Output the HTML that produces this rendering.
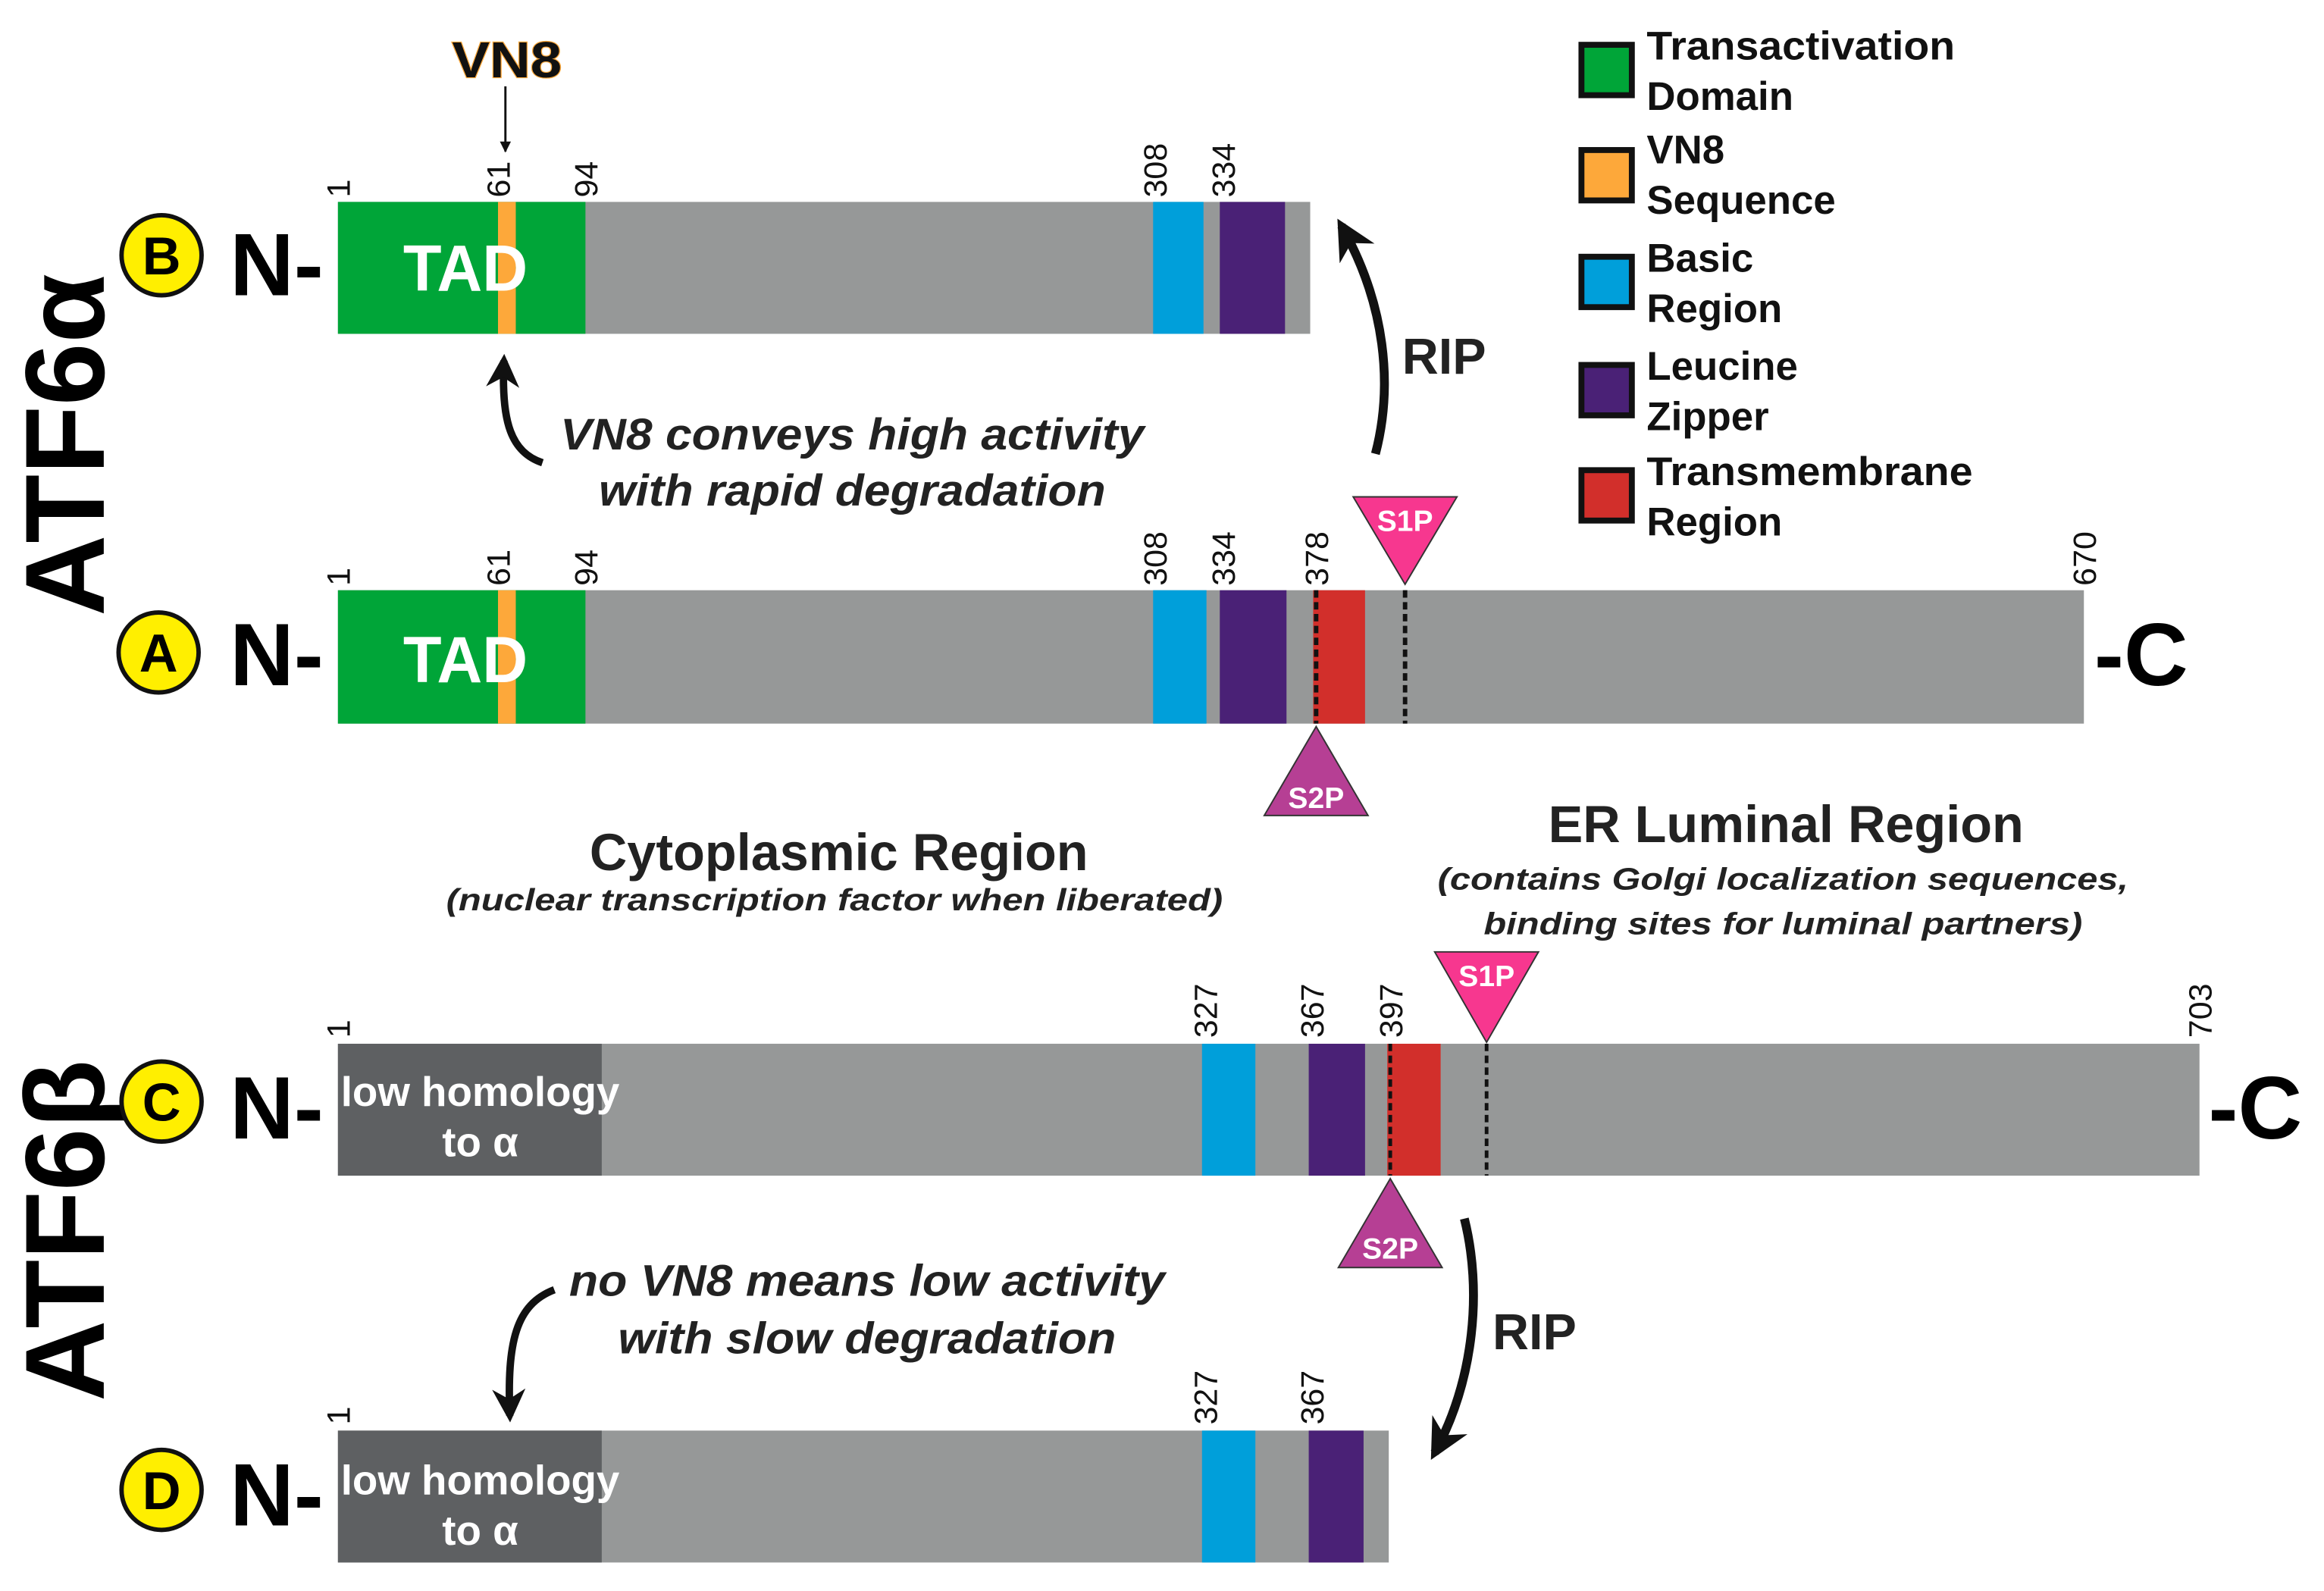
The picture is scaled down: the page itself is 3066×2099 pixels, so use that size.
<!DOCTYPE html>
<html><head><meta charset="utf-8"><style>
html,body{margin:0;padding:0;background:#fff;width:3066px;height:2099px;overflow:hidden}
svg{display:block}
.n{font-family:"Liberation Sans Narrow","Liberation Sans",sans-serif;font-weight:bold}
.s{font-family:"Liberation Sans",sans-serif}
</style></head><body>
<svg width="3066" height="2099" viewBox="0 0 1568 1073" xmlns="http://www.w3.org/2000/svg">
<defs>
<marker id="ah" viewBox="0 0 10 10" refX="9" refY="5" markerWidth="5" markerHeight="5" orient="auto"><path d="M0,0 L10,5 L0,10 z" fill="#111"/></marker>
<marker id="ahs" viewBox="0 0 10 10" refX="8" refY="5" markerWidth="4.5" markerHeight="4.5" orient="auto"><path d="M0,0 L10,5 L0,10 L3,5 z" fill="#111"/></marker>
</defs>

<text class="s" font-weight="bold" font-size="76" transform="translate(70,300) rotate(-90)" text-anchor="middle">ATF6α</text>
<text class="s" font-weight="bold" font-size="76" transform="translate(70,830) rotate(-90)" text-anchor="middle">ATF6β</text>

<g class="s" font-weight="bold" font-size="36" text-anchor="middle">
<circle cx="109" cy="172" r="27" fill="#ffef00" stroke="#111" stroke-width="3"/><text x="109" y="185">B</text>
<circle cx="107" cy="440" r="27" fill="#ffef00" stroke="#111" stroke-width="3"/><text x="107" y="453">A</text>
<circle cx="109" cy="743" r="27" fill="#ffef00" stroke="#111" stroke-width="3"/><text x="109" y="756">C</text>
<circle cx="109" cy="1005" r="27" fill="#ffef00" stroke="#111" stroke-width="3"/><text x="109" y="1018">D</text>
</g>
<g class="n" font-size="60">
<text x="155" y="199">N-</text>
<text x="155" y="462">N-</text>
<text x="155" y="768">N-</text>
<text x="155" y="1029">N-</text>
<text x="1413" y="462">-C</text>
<text x="1490" y="768">-C</text>
</g>

<rect x="228" y="136" width="656" height="89" fill="#969898"/>
<rect x="228" y="136" width="167" height="89" fill="#00a538"/>
<rect x="336" y="136" width="12" height="89" fill="#fda83a"/>
<rect x="778" y="136" width="34" height="89" fill="#009fda"/>
<rect x="823" y="136" width="44" height="89" fill="#4a2176"/>
<text class="n" x="314" y="196" font-size="44" fill="#fff" text-anchor="middle" textLength="84" lengthAdjust="spacingAndGlyphs">TAD</text>

<rect x="228" y="398" width="1178" height="90" fill="#969898"/>
<rect x="228" y="398" width="167" height="90" fill="#00a538"/>
<rect x="336" y="398" width="12" height="90" fill="#fda83a"/>
<rect x="778" y="398" width="36" height="90" fill="#009fda"/>
<rect x="823" y="398" width="45" height="90" fill="#4a2176"/>
<rect x="886" y="398" width="35" height="90" fill="#d22f2b"/>
<text class="n" x="314" y="460" font-size="44" fill="#fff" text-anchor="middle" textLength="84" lengthAdjust="spacingAndGlyphs">TAD</text>
<line x1="888" y1="398" x2="888" y2="488" stroke="#111" stroke-width="3" stroke-dasharray="5,3"/>
<line x1="948" y1="398" x2="948" y2="488" stroke="#111" stroke-width="3" stroke-dasharray="5,3"/>
<polygon points="913,335 983,335 948,394" fill="#f7378f" stroke="#333" stroke-width="1"/>
<text class="s" font-weight="bold" x="948" y="358" font-size="20" fill="#fff" text-anchor="middle">S1P</text>
<polygon points="888,490 853,550 923,550" fill="#b63f94" stroke="#333" stroke-width="1"/>
<text class="s" font-weight="bold" x="888" y="545" font-size="20" fill="#fff" text-anchor="middle">S2P</text>

<rect x="228" y="704" width="1256" height="89" fill="#969898"/>
<rect x="228" y="704" width="178" height="89" fill="#5e6062"/>
<rect x="811" y="704" width="36" height="89" fill="#009fda"/>
<rect x="883" y="704" width="38" height="89" fill="#4a2176"/>
<rect x="936" y="704" width="36" height="89" fill="#d22f2b"/>
<line x1="938" y1="704" x2="938" y2="793" stroke="#111" stroke-width="2.5" stroke-dasharray="5,3"/>
<line x1="1003" y1="704" x2="1003" y2="793" stroke="#111" stroke-width="2.5" stroke-dasharray="5,3"/>
<polygon points="968,642 1038,642 1003,703" fill="#f7378f" stroke="#333" stroke-width="1"/>
<text class="s" font-weight="bold" x="1003" y="665" font-size="20" fill="#fff" text-anchor="middle">S1P</text>
<polygon points="938,795 903,855 973,855" fill="#b63f94" stroke="#333" stroke-width="1"/>
<text class="s" font-weight="bold" x="938" y="849" font-size="20" fill="#fff" text-anchor="middle">S2P</text>
<g class="n" font-size="28" fill="#fff" text-anchor="middle"><text x="324" y="746" textLength="188" lengthAdjust="spacingAndGlyphs">low homology</text><text x="324" y="780">to α</text></g>

<rect x="228" y="965" width="709" height="89" fill="#969898"/>
<rect x="228" y="965" width="178" height="89" fill="#5e6062"/>
<rect x="811" y="965" width="36" height="89" fill="#009fda"/>
<rect x="883" y="965" width="37" height="89" fill="#4a2176"/>
<g class="n" font-size="28" fill="#fff" text-anchor="middle"><text x="324" y="1008" textLength="188" lengthAdjust="spacingAndGlyphs">low homology</text><text x="324" y="1042">to α</text></g>

<g class="s" font-size="22" fill="#111">
<text transform="translate(236,133) rotate(-90)">1</text>
<text transform="translate(344,133) rotate(-90)">61</text>
<text transform="translate(403,133) rotate(-90)">94</text>
<text transform="translate(787,133) rotate(-90)">308</text>
<text transform="translate(833,133) rotate(-90)">334</text>
<text transform="translate(236,395) rotate(-90)">1</text>
<text transform="translate(344,395) rotate(-90)">61</text>
<text transform="translate(403,395) rotate(-90)">94</text>
<text transform="translate(787,395) rotate(-90)">308</text>
<text transform="translate(833,395) rotate(-90)">334</text>
<text transform="translate(896,395) rotate(-90)">378</text>
<text transform="translate(1414,395) rotate(-90)">670</text>
<text transform="translate(236,700) rotate(-90)">1</text>
<text transform="translate(821,700) rotate(-90)">327</text>
<text transform="translate(893,700) rotate(-90)">367</text>
<text transform="translate(946,700) rotate(-90)">397</text>
<text transform="translate(1492,700) rotate(-90)">703</text>
<text transform="translate(236,961) rotate(-90)">1</text>
<text transform="translate(821,961) rotate(-90)">327</text>
<text transform="translate(893,961) rotate(-90)">367</text>
</g>

<text class="n" x="342" y="52" font-size="34" text-anchor="middle" fill="#111" stroke="#fda83a" stroke-width="1.2" paint-order="stroke" textLength="74" lengthAdjust="spacingAndGlyphs">VN8</text>
<line x1="341" y1="58" x2="341" y2="102" stroke="#111" stroke-width="1.5" marker-end="url(#ah)"/>

<g class="n" font-style="italic" font-size="30" fill="#222" text-anchor="middle">
<text x="575" y="303" textLength="394" lengthAdjust="spacingAndGlyphs">VN8 conveys high activity</text>
<text x="575" y="341" textLength="342" lengthAdjust="spacingAndGlyphs">with rapid degradation</text>
<text x="585" y="874" textLength="402" lengthAdjust="spacingAndGlyphs">no VN8 means low activity</text>
<text x="585" y="913" textLength="336" lengthAdjust="spacingAndGlyphs">with slow degradation</text>
</g>

<path d="M366,312 C345,305 338,285 340,243" fill="none" stroke="#111" stroke-width="5" marker-end="url(#ahs)"/>
<path d="M374,870 C348,880 342,905 344,955" fill="none" stroke="#111" stroke-width="5" marker-end="url(#ahs)"/>
<path d="M928,306 C940,260 935,205 905,152" fill="none" stroke="#111" stroke-width="6" marker-end="url(#ahs)"/>
<path d="M988,822 C1000,870 995,930 968,980" fill="none" stroke="#111" stroke-width="6" marker-end="url(#ahs)"/>
<text class="s" font-weight="bold" x="946" y="252" font-size="34" fill="#222">RIP</text>
<text class="s" font-weight="bold" x="1007" y="910" font-size="34" fill="#222">RIP</text>

<g class="s" text-anchor="middle" fill="#222" font-weight="bold">
<text x="566" y="587" font-size="35">Cytoplasmic Region</text>
<text x="563" y="614" font-size="21" font-style="italic" textLength="524" lengthAdjust="spacingAndGlyphs">(nuclear transcription factor when liberated)</text>
<text x="1205" y="568" font-size="35">ER Luminal Region</text>
<text x="1203" y="600" font-size="21" font-style="italic" textLength="466" lengthAdjust="spacingAndGlyphs">(contains Golgi localization sequences,</text>
<text x="1203" y="630" font-size="21" font-style="italic" textLength="404" lengthAdjust="spacingAndGlyphs">binding sites for luminal partners)</text>
</g>

<g stroke="#111" stroke-width="4">
<rect x="1067" y="30" width="34" height="34" fill="#00a538"/>
<rect x="1067" y="101" width="34" height="34" fill="#fda83a"/>
<rect x="1067" y="173" width="34" height="34" fill="#009fda"/>
<rect x="1067" y="246" width="34" height="34" fill="#4a2176"/>
<rect x="1067" y="317" width="34" height="34" fill="#d22f2b"/>
</g>
<g class="n" font-size="27" fill="#111">
<text x="1111" y="40" textLength="208" lengthAdjust="spacingAndGlyphs">Transactivation</text><text x="1111" y="74">Domain</text>
<text x="1111" y="110">VN8</text><text x="1111" y="144">Sequence</text>
<text x="1111" y="183">Basic</text><text x="1111" y="217">Region</text>
<text x="1111" y="256">Leucine</text><text x="1111" y="290">Zipper</text>
<text x="1111" y="327" textLength="220" lengthAdjust="spacingAndGlyphs">Transmembrane</text><text x="1111" y="361">Region</text>
</g>
</svg>
</body></html>
